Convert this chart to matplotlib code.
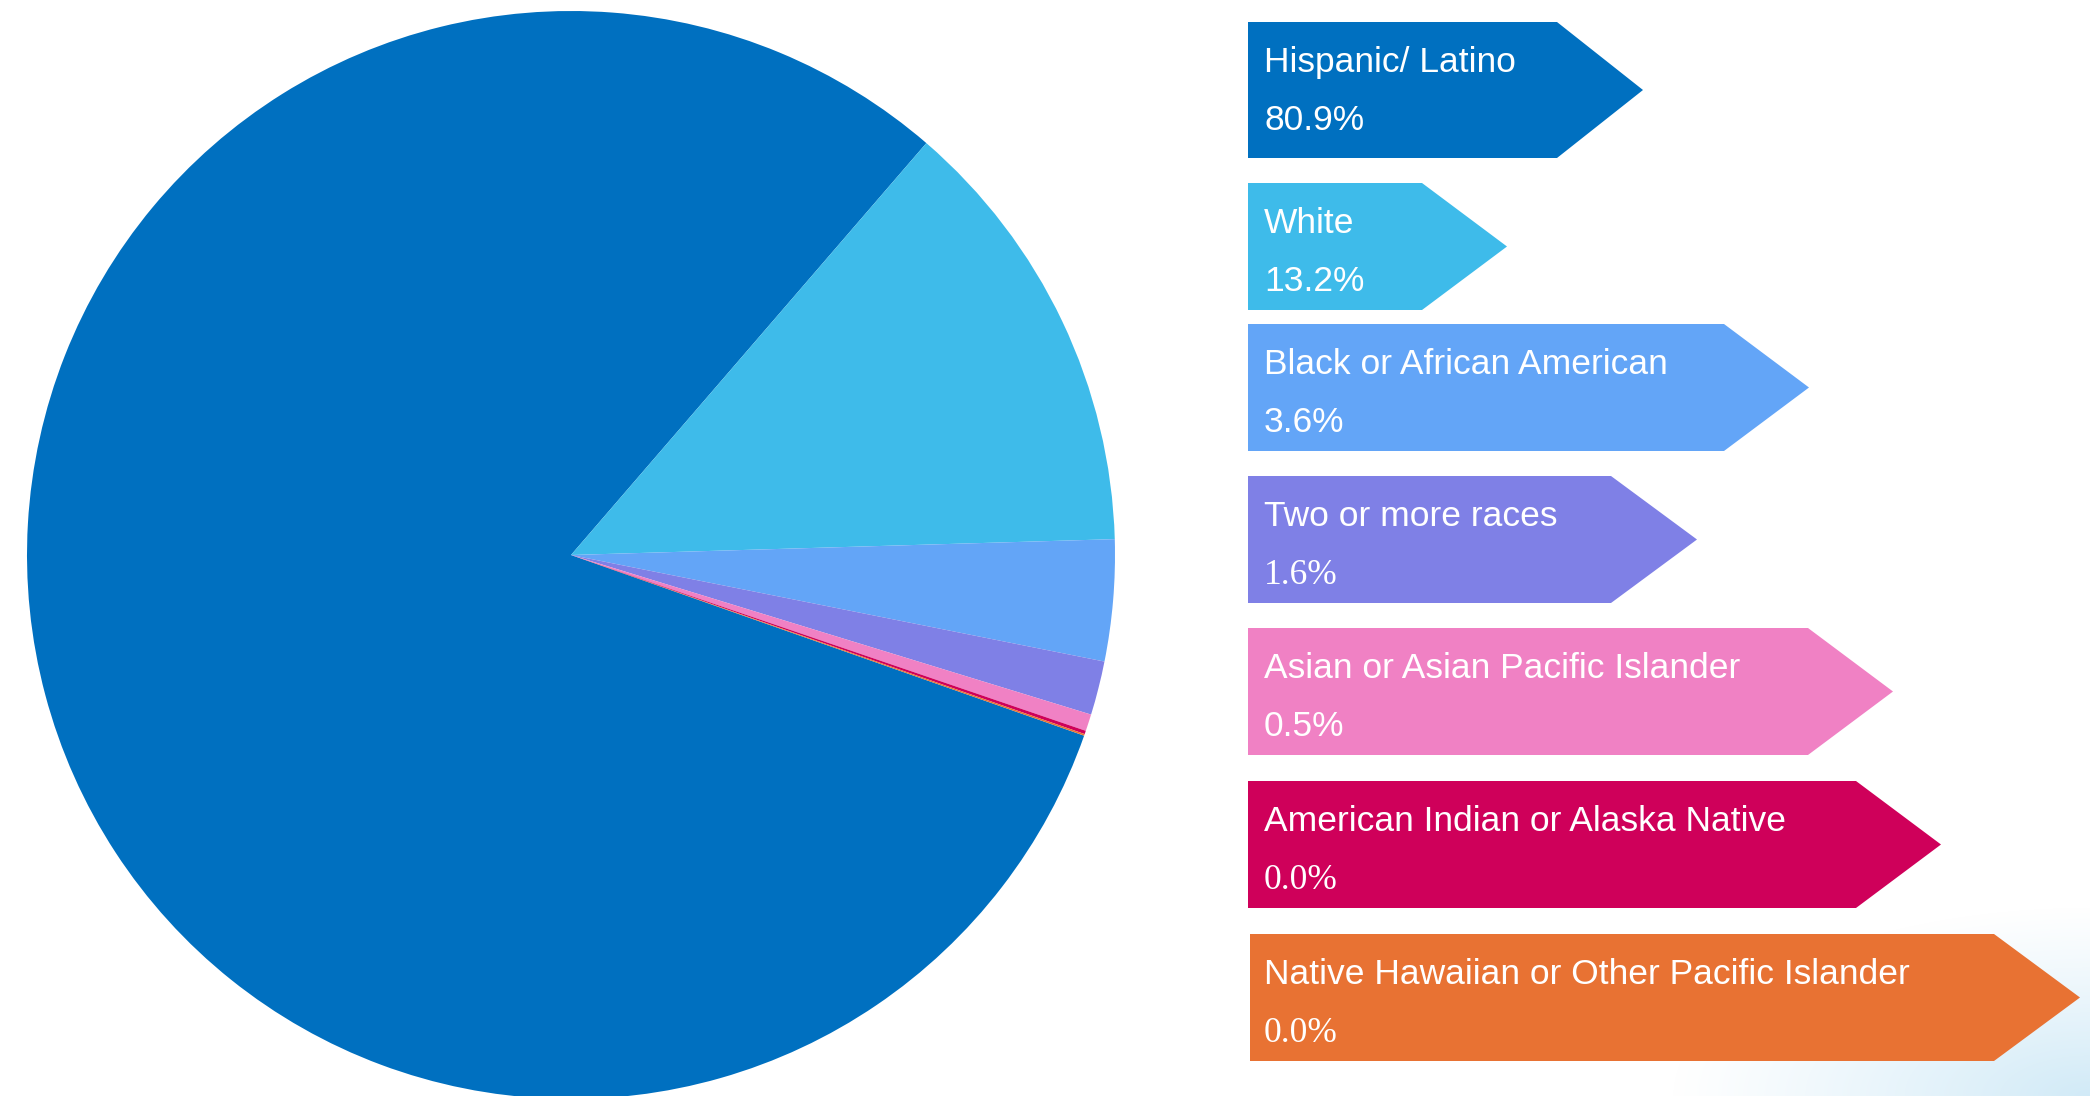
import numpy as np
import matplotlib
matplotlib.use("Agg")
import matplotlib.pyplot as plt
from matplotlib.patches import Polygon

# ---- data ----
categories = ["Hispanic/ Latino", "White", "Black or African American",
              "Two or more races", "Asian or Asian Pacific Islander",
              "American Indian or Alaska Native",
              "Native Hawaiian or Other Pacific Islander"]
values = [80.9, 13.2, 3.6, 1.6, 0.5, 0.1, 0.05]
pct_labels = ["80.9%", "13.2%", "3.6%", "1.6%", "0.5%", "0.0%", "0.0%"]
pct_serif = [False, False, False, True, False, True, True]
colors = ["#0070C0", "#3EBBEA", "#63A5F7", "#7F80E6", "#F081C4", "#CF005A", "#E87233"]

# ---- layout (pixels) ----
W, H = 2090, 1096
fig = plt.figure(figsize=(W / 100, H / 100), dpi=100)

# background gradient (bottom-right corner)
bg = fig.add_axes([0, 0, 1, 1])
yy, xx = np.mgrid[0:H, 0:W]
d = np.sqrt(((xx - W) / 420.0) ** 2 + ((yy - H) / 190.0) ** 2)
alpha = np.clip(1 - d, 0, 1) ** 1.1
img = np.zeros((H, W, 4))
img[..., 0] = 0.82
img[..., 1] = 0.92
img[..., 2] = 0.97
img[..., 3] = alpha
bg.imshow(img, extent=(0, W, H, 0), aspect="auto", interpolation="bilinear")
bg.set_xlim(0, W)
bg.set_ylim(H, 0)
bg.axis("off")

# pie
cx, cy, r = 571, 555, 544
pax = fig.add_axes([(cx - r) / W, (H - cy - r) / H, 2 * r / W, 2 * r / H])
pax.pie(values, colors=colors, startangle=-19.4, counterclock=False,
        radius=1.0, wedgeprops=dict(linewidth=0, antialiased=True))
pax.set_xlim(-1, 1)
pax.set_ylim(-1, 1)
pax.set_aspect("equal")
pax.axis("off")

# arrow labels
ax = fig.add_axes([0, 0, 1, 1])
ax.set_xlim(0, W)
ax.set_ylim(H, 0)
ax.axis("off")
ax.patch.set_alpha(0)

box_left = [1248, 1248, 1248, 1248, 1248, 1248, 1250]
box_top = [22, 183, 324, 476, 628, 781, 934]
box_bot = [158, 310, 451, 603, 755, 908, 1061]
body_end = [1557, 1422, 1724, 1611, 1808, 1856, 1994]
tip_x = [1643, 1507, 1809, 1697, 1893, 1941, 2080]

for i, cat in enumerate(categories):
    l, t, b, e, tx = box_left[i], box_top[i], box_bot[i], body_end[i], tip_x[i]
    m = (t + b) / 2
    poly = Polygon([(l, t), (e, t), (tx, m), (e, b), (l, b)], closed=True,
                   facecolor=colors[i], edgecolor="none")
    ax.add_patch(poly)
    ax.text(1264, t + 50, cat, color="white", fontsize=25.5,
            family="Liberation Sans", va="baseline", ha="left")
    fam = "Liberation Serif" if pct_serif[i] else "Liberation Sans"
    ax.text(1264, t + 108, pct_labels[i], color="white", fontsize=25.5,
            family=fam, va="baseline", ha="left")

fig.savefig("out.png", dpi=100)
